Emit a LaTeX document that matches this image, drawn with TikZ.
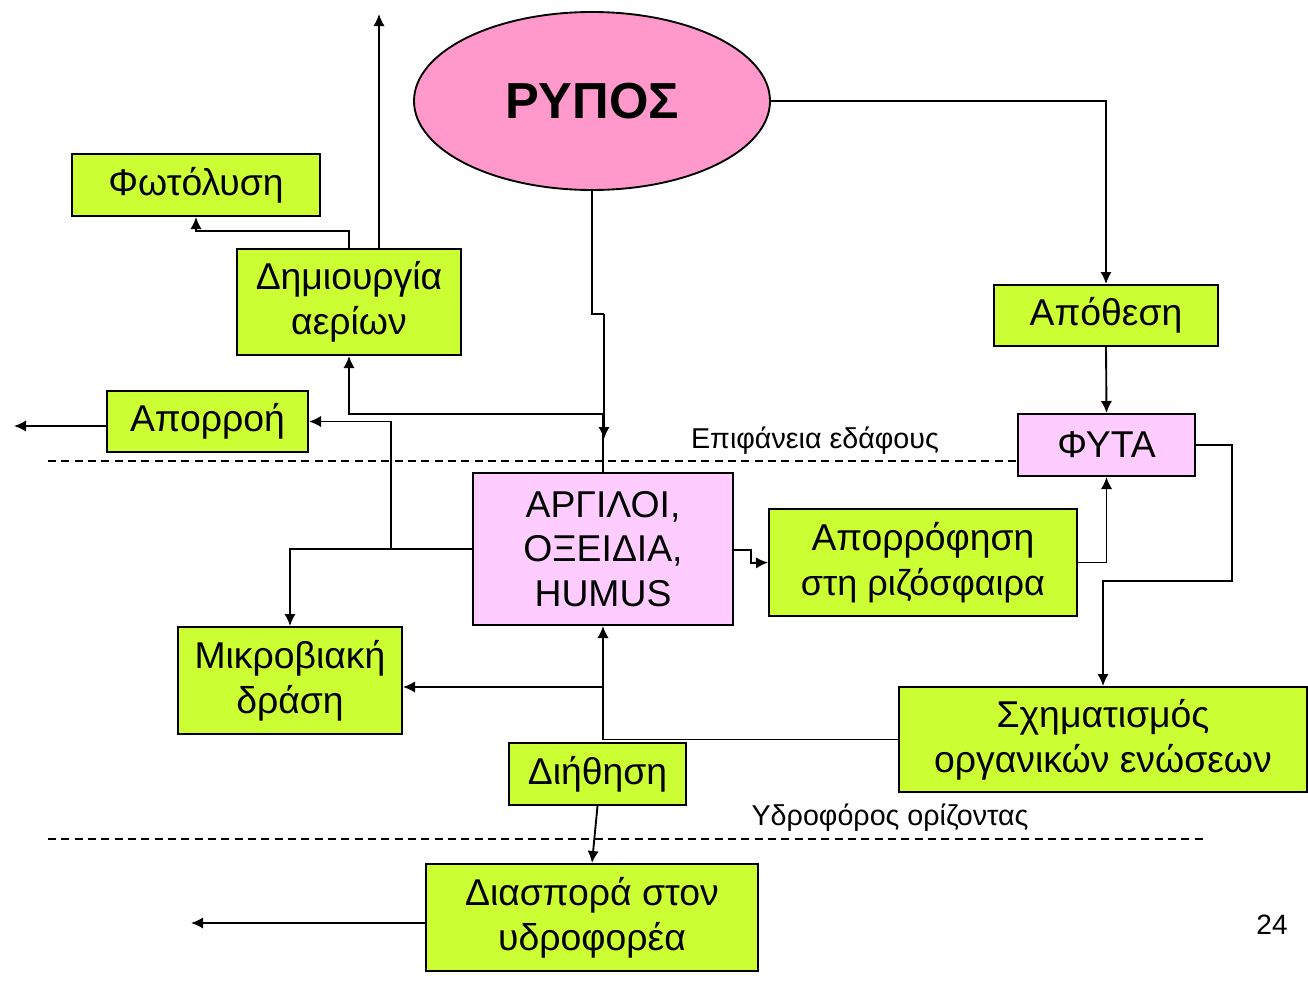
\documentclass[tikz,border=0pt]{standalone}
\usepackage{fontspec}
\setmainfont{Liberation Sans}
\usetikzlibrary{arrows.meta,shapes.geometric}
\newlength{\px}\setlength{\px}{0.75pt}
\definecolor{gfill}{HTML}{CCFF33}
\definecolor{pfill}{HTML}{FFCCFF}
\definecolor{efill}{HTML}{FF99CC}
\tikzset{
  boxbase/.style={draw=black, line width=1.5pt, inner sep=0pt, align=center,
    font=\fontsize{28}{33.5}\selectfont},
  gbox/.style={boxbase, fill=gfill},
  pbox/.style={boxbase, fill=pfill},
  conn/.style={line width=1.4pt},
  arr/.style={conn, -{Latex[length=9pt,width=8.5pt]}},
  soil/.style={line width=1.2pt, dash pattern=on 6pt off 4pt},
  lab/.style={font=\fontsize{21.5}{24}\selectfont, inner sep=0pt}
}
\begin{document}
\begin{tikzpicture}[x=0.75pt,y=-0.75pt]
\useasboundingbox (0,0) rectangle (1308,985);
% nodes
\node[ellipse, draw=black, line width=1.4pt, fill=efill, inner sep=0pt,
      minimum width=356\px, minimum height=178\px,
      font=\fontsize{38}{40}\selectfont\bfseries] (R) at (592,101) {ΡΥΠΟΣ};
\node[gbox, minimum width=248\px, minimum height=62\px] (F) at (196,185) {Φωτόλυση};
\node[gbox, minimum width=224\px, minimum height=106\px] (D) at (349,302) {Δημιουργία\\αερίων};
\node[gbox, minimum width=201\px, minimum height=61\px] (Ap) at (207.5,421.5) {Απορροή};
\node[pbox, minimum width=260\px, minimum height=152\px] (AR) at (603,549) {ΑΡΓΙΛΟΙ,\\ΟΞΕΙΔΙΑ,\\HUMUS};
\node[gbox, minimum width=224\px, minimum height=107\px] (M) at (290,680.5) {Μικροβιακή\\δράση};
\node[gbox, minimum width=177\px, minimum height=62\px] (Di) at (597.5,774) {Διήθηση};
\node[gbox, minimum width=332\px, minimum height=107\px] (Ds) at (592,917.5) {Διασπορά στον\\υδροφορέα};
\node[gbox, minimum width=224\px, minimum height=61\px] (Apo) at (1106,315.5) {Απόθεση};
\node[pbox, minimum width=177\px, minimum height=62\px] (FY) at (1106.5,445) {ΦΥΤΑ};
\node[gbox, minimum width=308\px, minimum height=107\px] (Ab) at (923,562.5) {Απορρόφηση\\{\fontsize{27}{30}\selectfont στη ριζόσφαιρα}};
\node[gbox, minimum width=408\px, minimum height=105\px] (S) at (1103,739.5) {Σχηματισμός\\οργανικών ενώσεων};
% labels
\node[lab] (L1) at (815,441) {Επιφάνεια εδάφους};
\node[lab] (L2) at (890,818) {Υδροφόρος ορίζοντας};
\node[font=\fontsize{21}{24}\selectfont, inner sep=0pt] (P) at (1272,925) {24};
% coordinates
\coordinate (rB) at (592,314);
\coordinate (rC) at (604,314);
\coordinate (rT) at (604,439);
\coordinate (up) at (379,14);
\coordinate (j1) at (391,549);
\coordinate (outL) at (14,426);
\coordinate (outD) at (191,923);
\coordinate (f1) at (1232,581);
% dashed soil lines
\draw[soil] (48,461) -- (FY.west |- 0,461);
\draw[soil] (48,839) -- (1205,839);
% connectors
\draw[arr] (R.east) -| (Apo.north);
\draw[arr] (Apo.south) -- (FY.north);
\draw[conn] (R.south) -- (rB) -- (rC);
\draw[arr] (rC) -- (rT);
\draw[arr] (AR.north) -- (AR.north |- 0,414) -| (D.south);
\draw[arr] (D.north -| up) -- (up);
\draw[arr] (D.north) -- ++(0,-17) -| (F.south);
\draw[arr] (AR.west) -- (j1) |- (Ap.east);
\draw[arr] (j1) -| (M.north);
\draw[arr] (Ap.west |- outL) -- (outL);
\draw[arr] (S.west) -| (AR.south);
\draw[arr] (AR.south |- 0,687) -- (M.east |- 0,687);
\draw[arr] (Di.south) -- (Ds.north);
\draw[arr] (Ds.west |- outD) -- (outD);
\draw[arr] (AR.east |- 0,550) -- (751,550) -- (751,563) -- (Ab.west);
\draw[arr] (Ab.east) -| (FY.south);
\draw[arr] (FY.east) -| (f1) -| (S.north);
\end{tikzpicture}
\end{document}
